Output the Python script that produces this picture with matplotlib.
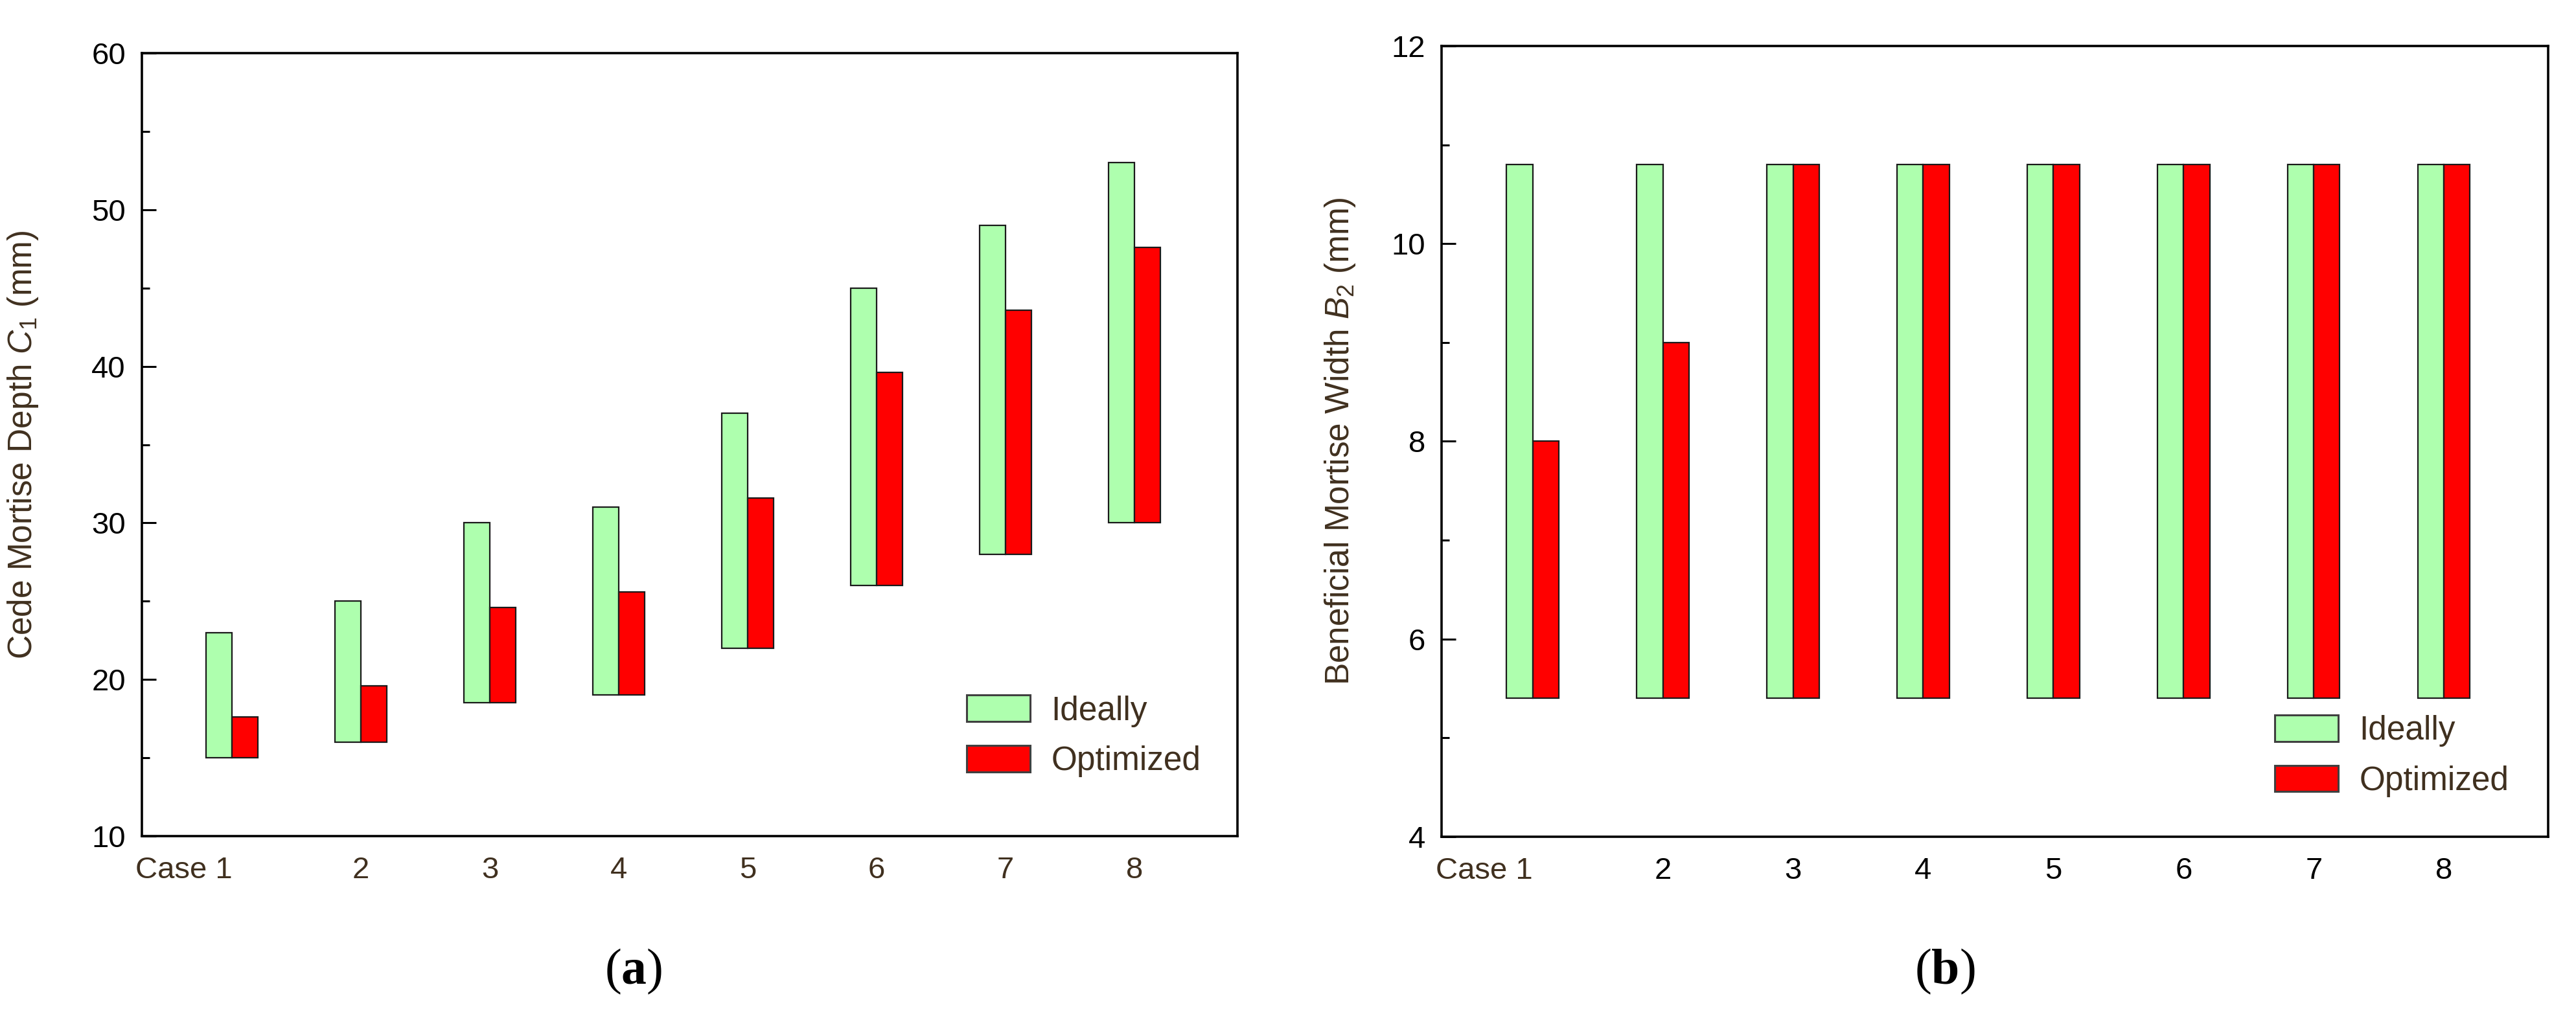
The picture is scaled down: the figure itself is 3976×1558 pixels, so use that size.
import matplotlib
matplotlib.use("Agg")
import matplotlib.pyplot as plt
from matplotlib.patches import Patch
from matplotlib.ticker import MultipleLocator
import numpy as np

# ---- data ----
cases = [1, 2, 3, 4, 5, 6, 7, 8]
case_labels = ["Case 1", "2", "3", "4", "5", "6", "7", "8"]

# panel (a): Cede mortise depth C1 (mm), floating bars bottom -> top
c1_bottom = [15, 16, 18.5, 19, 22, 26, 28, 30]
c1_ideal_top = [23, 25, 30, 31, 37, 45, 49, 53]
c1_opt_top = [17.6, 19.6, 24.6, 25.6, 31.6, 39.6, 43.6, 47.6]

# panel (b): Beneficial mortise width B2 (mm)
b2_bottom = [5.4, 5.4, 5.4, 5.4, 5.4, 5.4, 5.4, 5.4]
b2_ideal_top = [10.8, 10.8, 10.8, 10.8, 10.8, 10.8, 10.8, 10.8]
b2_opt_top = [8.0, 9.0, 10.8, 10.8, 10.8, 10.8, 10.8, 10.8]

series_names = ["Ideally", "Optimized"]

# ---- style ----
GREEN = "#AEFFAE"
RED = "#FF0000"
BROWN = "#40301f"
EDGE = "#1a1a1a"

plt.rcParams["font.family"] = ["Liberation Sans", "DejaVu Sans"]
plt.rcParams["mathtext.fontset"] = "custom"
plt.rcParams["mathtext.rm"] = "Liberation Sans"
plt.rcParams["mathtext.it"] = "Liberation Sans:italic"
plt.rcParams["mathtext.bf"] = "Liberation Serif:bold"

fig = plt.figure(figsize=(39.76, 15.58), dpi=100)
W, H = 3976, 1558

def axes_px(x0, y0, x1, y1):
    return fig.add_axes([x0 / W, 1 - y1 / H, (x1 - x0) / W, (y1 - y0) / H])

axA = axes_px(219, 82, 1910, 1291)
axB = axes_px(2225, 71, 3933, 1292)

def draw(ax, bottom, ideal_top, opt_top, ylim, major, minor, ylabel,
         label_x, legend_y, brown_ticks):
    x = np.array(cases, dtype=float)
    w = 0.2
    b = np.array(bottom)
    ax.bar(x - w / 2, np.array(ideal_top) - b, width=w, bottom=b,
           color=GREEN, edgecolor=EDGE, linewidth=1.6, label=series_names[0])
    ax.bar(x + w / 2, np.array(opt_top) - b, width=w, bottom=b,
           color=RED, edgecolor=EDGE, linewidth=1.6, label=series_names[1])
    ax.set_xlim(0.3, 8.8)
    ax.set_ylim(*ylim)
    ax.yaxis.set_major_locator(MultipleLocator(major))
    ax.yaxis.set_minor_locator(MultipleLocator(minor))
    ax.set_xticks(cases)
    ax.set_xticklabels(case_labels)
    for sp in ax.spines.values():
        sp.set_linewidth(2.6)
        sp.set_color("black")
    ax.tick_params(axis="y", which="major", direction="in", length=16,
                   width=2.2, labelsize=34, pad=18, colors="black")
    ax.tick_params(axis="y", which="minor", direction="in", length=8.5,
                   width=2.2)
    ax.tick_params(axis="x", which="both", length=0, labelsize=34, pad=22)
    for i, t in enumerate(ax.get_xticklabels()):
        if brown_ticks or i == 0:
            t.set_color(BROWN)
        else:
            t.set_color("black")
    ax.get_xticklabels()[0].set_horizontalalignment("right")
    ax.set_ylabel(ylabel, fontsize=37, color=BROWN)
    ax.yaxis.set_label_coords(label_x, 0.5)
    handles = [Patch(facecolor=GREEN, edgecolor="#404040", linewidth=2.2),
               Patch(facecolor=RED, edgecolor="#404040", linewidth=2.2)]
    leg = ax.legend(handles, series_names, loc="upper left",
                    bbox_to_anchor=(0.753, legend_y), frameon=False,
                    fontsize=37, handlelength=1.9, handleheight=0.85,
                    handletextpad=0.63, labelspacing=0.55, borderpad=0,
                    borderaxespad=0)
    for t in leg.get_texts():
        t.set_color(BROWN)

draw(axA, c1_bottom, c1_ideal_top, c1_opt_top, (10, 60), 10, 5,
     r"Cede Mortise Depth $\mathit{C}_1$ (mm)", -0.093, 0.18, True)
draw(axB, b2_bottom, b2_ideal_top, b2_opt_top, (4, 12), 2, 1,
     r"Beneficial Mortise Width $\mathit{B}_2$ (mm)", -0.076, 0.154, False)

fig.text(978 / W, 1 - 1500 / H, r"($\mathbf{a}$)", ha="center", va="center",
         fontsize=56, family=["Liberation Serif", "DejaVu Serif"])
fig.text(3002 / W, 1 - 1500 / H, r"($\mathbf{b}$)", ha="center", va="center",
         fontsize=56, family=["Liberation Serif", "DejaVu Serif"])

fig.savefig("out.png", dpi=100, facecolor="white")
